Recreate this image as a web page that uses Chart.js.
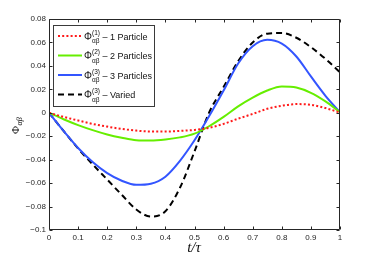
<!DOCTYPE html>
<html><head><meta charset="utf-8">
<script src="https://cdn.jsdelivr.net/npm/chart.js@4/dist/chart.umd.min.js"></script>
<style>html,body{margin:0;padding:0;background:#fff}#wrap{width:376px;height:258px}</style>
</head><body><div id="wrap"><canvas id="c" width="376" height="258"></canvas></div>
<script>
// time axis t/tau
const tValues = [0,0.05,0.1,0.15,0.2,0.25,0.3,0.35,0.4,0.45,0.5,0.55,0.6,0.65,0.7,0.75,0.8,0.85,0.9,0.95,1];
// series values
const onePart = [0,-0.0035,-0.0066,-0.0095,-0.0118,-0.0138,-0.0152,-0.0160,-0.0160,-0.0155,-0.0146,-0.0128,-0.0095,-0.0050,-0.0010,0.0034,0.0060,0.0074,0.0068,0.0040,0.0002];
const twoPart = [0,-0.0055,-0.0105,-0.0148,-0.0185,-0.0213,-0.0234,-0.0237,-0.0228,-0.0210,-0.0178,-0.0115,-0.0035,0.0055,0.0130,0.0190,0.0224,0.0215,0.0170,0.0097,0.0005];
const threePart = [0,-0.0155,-0.0300,-0.0420,-0.0515,-0.0580,-0.0615,-0.0605,-0.0545,-0.0410,-0.0235,-0.0030,0.0190,0.0420,0.0568,0.0622,0.0590,0.0480,0.0310,0.0145,0.0005];
const varied = [0,-0.0155,-0.0305,-0.0440,-0.0570,-0.0700,-0.0825,-0.0885,-0.0840,-0.0640,-0.0330,0.0000,0.0220,0.0440,0.0600,0.0675,0.0680,0.0640,0.0560,0.0460,0.0345];
// tick labels
const xTicks = [0,0.1,0.2,0.3,0.4,0.5,0.6,0.7,0.8,0.9,1];
const yTicks = [0.08,0.06,0.04,0.02,0,-0.02,-0.04,-0.06,-0.08,-0.1];
const legendSup = ['(1)','(2)','(3)','(3)'];
const legendText = ['\u2013 1 Particle','\u2013 2 Particles','\u2013 3 Particles','\u2013 Varied'];

const pts = arr => arr.map((v,i)=>({x:tValues[i], y:v}));
const styles = [
  {c:'#ff1a1a', dash:[2,2.2]},
  {c:'#66ee00', dash:[]},
  {c:'#3355ff', dash:[]},
  {c:'#000000', dash:[6,4]}
];
const series = [onePart, twoPart, threePart, varied];

const fmt = v => { const r = Math.round(v*100)/100; if (r===0) return '0'; return (r<0?'\u2212':'') + String(Math.abs(r)); };

const framePlugin = {
  id:'frame',
  afterDatasetsDraw(chart){
    const {ctx, chartArea:a, scales:{x, y}} = chart;
    ctx.save();
    ctx.strokeStyle = '#262626'; ctx.lineWidth = 1; ctx.setLineDash([]);
    const L=Math.round(a.left)+0.5, R=Math.round(a.right)-0.5, T=Math.round(a.top)+0.5, B=Math.round(a.bottom)-0.5;
    ctx.beginPath();
    ctx.moveTo(L,T); ctx.lineTo(R,T); ctx.lineTo(R,B); ctx.lineTo(L,B); ctx.closePath();
    ctx.stroke();
    ctx.beginPath();
    xTicks.forEach(v=>{ const px=Math.round(x.getPixelForValue(v))+0.5; ctx.moveTo(px,B); ctx.lineTo(px,B-3); ctx.moveTo(px,T); ctx.lineTo(px,T+3); });
    yTicks.forEach(v=>{ const py=Math.round(y.getPixelForValue(v))+0.5; ctx.moveTo(L,py); ctx.lineTo(L+3,py); ctx.moveTo(R,py); ctx.lineTo(R-3,py); });
    ctx.stroke();

    // legend
    const bx=53.5, by=25.5, bw=101, bh=81;
    ctx.fillStyle='#fff'; ctx.fillRect(bx,by,bw,bh);
    ctx.strokeStyle='#3a3a3a'; ctx.strokeRect(bx,by,bw,bh);
    const rows=[36,55.5,75,94.5];
    rows.forEach((ry,i)=>{
      const s=styles[i];
      ctx.strokeStyle=s.c; ctx.lineWidth=2; ctx.setLineDash(s.dash);
      ctx.beginPath(); ctx.moveTo(58,ry); ctx.lineTo(82,ry); ctx.stroke();
      ctx.setLineDash([]);
      ctx.fillStyle='#111'; ctx.textBaseline='alphabetic'; ctx.textAlign='left';
      ctx.font='10px "Liberation Sans", Arial, sans-serif';
      ctx.fillText('\u03A6',84,ry+3.5);
      ctx.font='6.5px "Liberation Sans", Arial, sans-serif';
      ctx.fillText(legendSup[i],92,ry-1.5);
      ctx.fillText('\u03B1\u03B2',92,ry+7);
      ctx.font='9px "Liberation Sans", Arial, sans-serif';
      ctx.fillText(legendText[i],102.5,ry+3.5);
    });

    // axis titles
    ctx.fillStyle='#111';
    ctx.font='italic 15px "Liberation Serif", "DejaVu Serif", serif';
    ctx.textAlign='center';
    ctx.fillText('t/\u03C4',194,252);
    ctx.save();
    ctx.translate(19,134); ctx.rotate(-Math.PI/2);
    ctx.textAlign='left';
    ctx.font='11px "Liberation Serif", serif';
    ctx.fillText('\u03A6',0,0);
    ctx.font='italic 8px "Liberation Serif", serif';
    ctx.fillText('\u03B1\u03B2',8.5,2.5);
    ctx.restore();
    ctx.restore();
  }
};

new Chart(document.getElementById('c'), {
  type:'line',
  data:{ datasets: series.map((arr,i)=>({
    data: pts(arr), borderColor: styles[i].c, borderDash: styles[i].dash,
    borderWidth: 2, pointRadius: 0, fill:false, cubicInterpolationMode:'monotone'
  }))},
  options:{
    responsive:false, animation:false, devicePixelRatio:1,
    layout:{padding:{left:0, top:19, right:36, bottom:0}},
    plugins:{legend:{display:false}, tooltip:{enabled:false}},
    scales:{
      x:{ type:'linear', min:0, max:1,
        afterFit(s){ s.height=28; },
        afterBuildTicks(s){ s.ticks = xTicks.map(v=>({value:v})); },
        grid:{display:false, drawTicks:false}, border:{display:false},
        ticks:{ padding:3, color:'#262626', font:{family:'"Liberation Sans", Arial, sans-serif', size:8}, callback:v=>fmt(v), maxRotation:0, autoSkip:false }
      },
      y:{ type:'linear', min:-0.1, max:0.08,
        afterFit(s){ s.width=49; },
        afterBuildTicks(s){ s.ticks = yTicks.map(v=>({value:v})); },
        grid:{display:false, drawTicks:false}, border:{display:false},
        ticks:{ padding:3, color:'#262626', font:{family:'"Liberation Sans", Arial, sans-serif', size:8}, callback:v=>fmt(v), autoSkip:false }
      }
    }
  },
  plugins:[framePlugin]
});
</script>
</body></html>
